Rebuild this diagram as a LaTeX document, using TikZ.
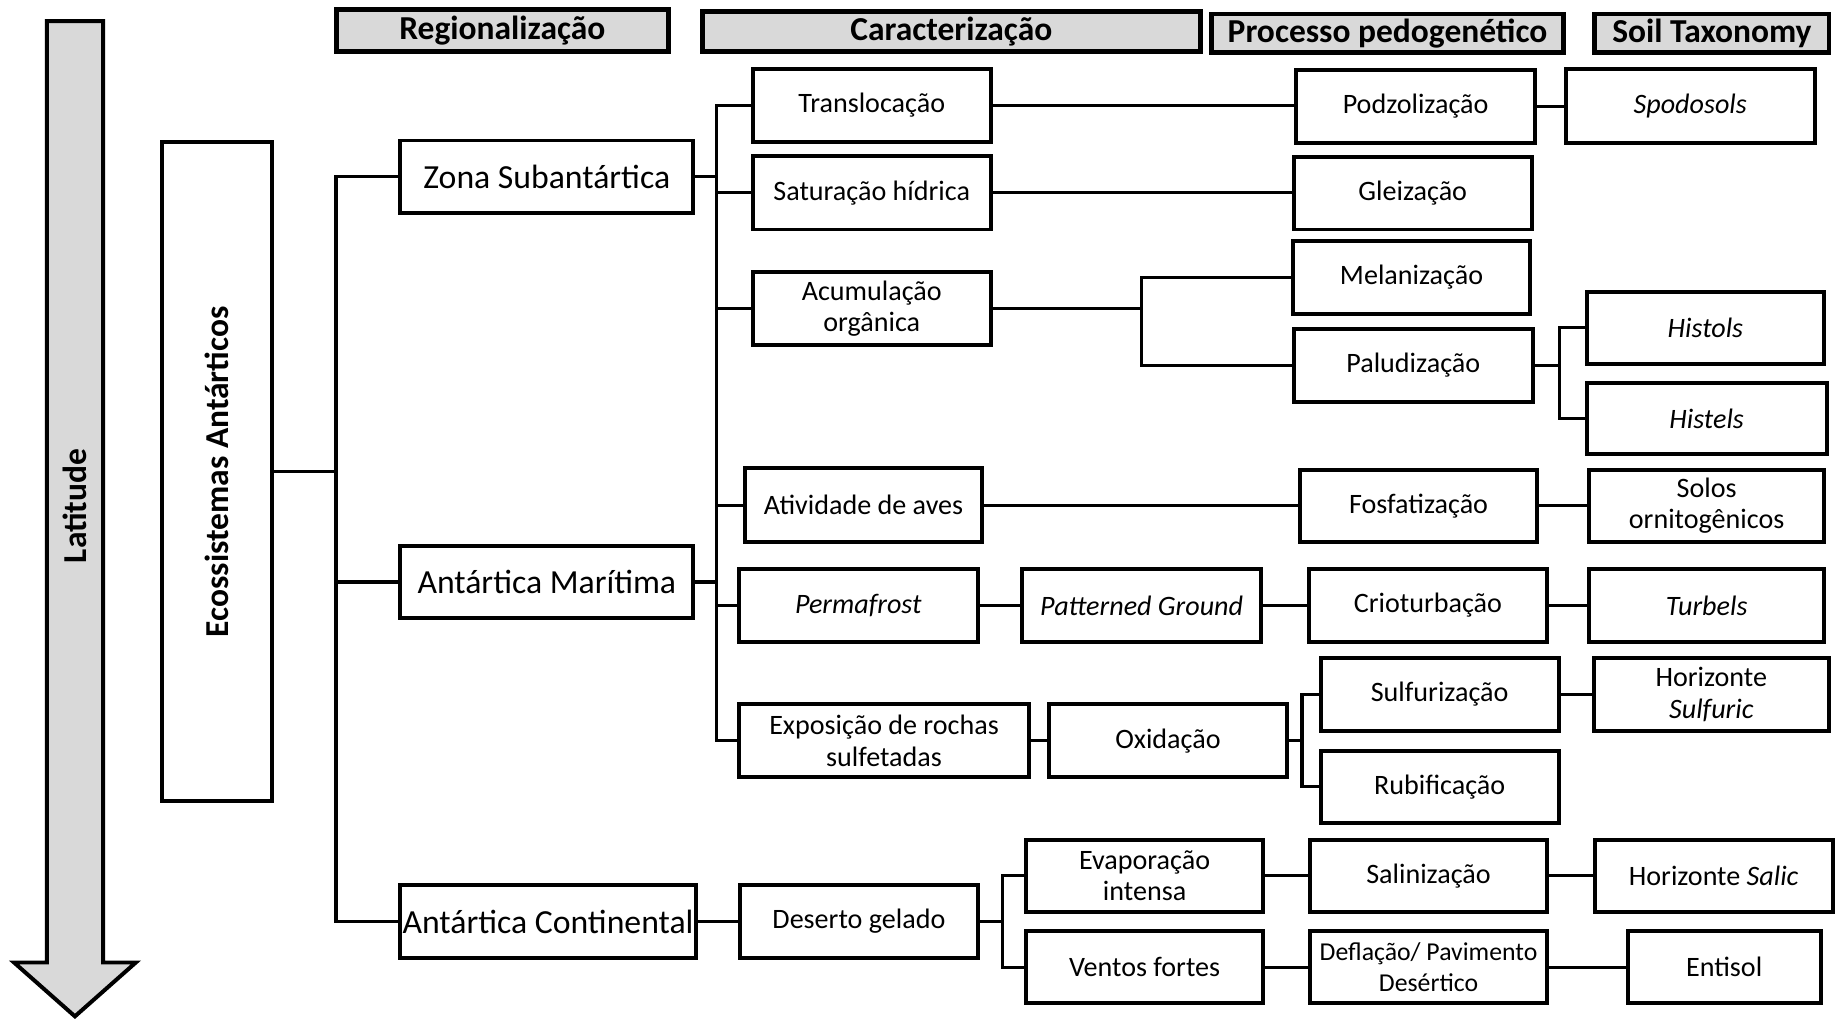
\documentclass[tikz,border=0pt]{standalone}
\usepackage{fontspec}
\setmainfont{Carlito}
\definecolor{hdrgray}{RGB}{217,217,217}
\newcommand{\bx}[7][]{%
  \node[box,#1,minimum width={(#5-#3)*0.5pt},minimum height={(#6-#4)*0.5pt}] (#2) at ({(#3+#5)/2},{(#4+#6)/2}) {#7};}
\begin{document}
\begin{tikzpicture}[x=0.5pt,y=-0.5pt,
  box/.style={draw,line width=1.7pt,fill=white,inner sep=0.5pt,align=center,font=\fontsize{12}{13.5}\selectfont},
  small/.style={font=\fontsize{11}{13.5}\selectfont},
  reg/.style={font=\fontsize{14.4}{16}\selectfont},
  hdr/.style={line width=2.1pt,fill=hdrgray,font=\bfseries\fontsize{14.3}{16}\selectfont},
  vtext/.style={rotate=90,font=\bfseries\fontsize{14.3}{16}\selectfont,inner sep=0pt},
  conn/.style={line width=1.4pt,line cap=rect}]
\useasboundingbox (0,0) rectangle (1568,870);
% latitude arrow
\draw[line width=1.7pt,fill=hdrgray,line join=miter] (40,18) -- (88,18) -- (88,822) -- (116,822) -- (64,868) -- (12,822) -- (40,822) -- cycle;
\node[vtext] (lat) at (64,432) {Latitude};
% headers
\bx[hdr]{h1}{287}{8}{571}{44}{Regionalização}
\bx[hdr]{h2}{600}{10}{1025}{44}{Caracterização}
\bx[hdr]{h3}{1035}{12}{1335}{45}{Processo pedogenético}
\bx[hdr]{h4}{1362}{12}{1562}{45}{Soil Taxonomy}
% ecossistemas
\bx{eco}{138}{121}{232}{684}{}
\node[vtext] (ecot) at (185,403) {Ecossistemas Antárticos};
% regions
\bx[reg]{zona}{342}{120}{592}{182}{Zona Subantártica}
\bx[reg]{mar}{342}{466}{592}{528}{Antártica Marítima}
\bx[reg]{cont}{342}{756}{594}{818}{Antártica Continental}
% caracterizacao
\bx{trans}{643}{59}{846}{121}{Translocação}
\bx{satu}{643}{133}{846}{196}{Saturação hídrica}
\bx{acum}{643}{232}{846}{295}{Acumulação\\orgânica}
\bx{aves}{636}{400}{839}{463}{Atividade de aves}
\bx{perma}{631}{486}{835}{548}{\textit{Permafrost}}
\bx{expo}{631}{601}{879}{664}{Exposição de rochas\\sulfetadas}
\bx{patt}{873}{486}{1077}{548}{\textit{Patterned Ground}}
\bx{oxid}{896}{601}{1099}{664}{Oxidação}
\bx{deser}{632}{756}{835}{818}{Deserto gelado}
\bx{evap}{876}{717}{1079}{779}{Evaporação\\intensa}
\bx{vent}{876}{795}{1079}{857}{Ventos fortes}
% processos
\bx{podz}{1107}{60}{1311}{122}{Podzolização}
\bx{glei}{1105}{134}{1308}{196}{Gleização}
\bx{mela}{1104}{206}{1307}{268}{Melanização}
\bx{palu}{1105}{281}{1309}{343}{Paludização}
\bx{fosf}{1110}{401}{1313}{463}{Fosfatização}
\bx{crio}{1118}{486}{1321}{548}{Crioturbação}
\bx{sulf}{1128}{562}{1331}{624}{Sulfurização}
\bx{rubi}{1128}{641}{1331}{703}{Rubificação}
\bx{sali}{1119}{717}{1321}{779}{Salinização}
\bx[small]{defl}{1119}{795}{1321}{857}{Deflação/ Pavimento\\Desértico}
% soil taxonomy
\bx{spod}{1337}{59}{1550}{122}{\textit{Spodosols}}
\bx{hist}{1355}{249}{1558}{311}{\textit{Histols}}
\bx{hise}{1355}{327}{1560}{388}{\textit{Histels}}
\bx{solo}{1357}{401}{1558}{463}{Solos\\ornitogênicos}
\bx{turb}{1357}{486}{1558}{548}{\textit{Turbels}}
\bx{hsul}{1361}{562}{1562}{624}{Horizonte\\\textit{Sulfuric}}
\bx{hsal}{1362}{717}{1565}{779}{Horizonte \textit{Salic}}
\bx{enti}{1390}{795}{1555}{857}{Entisol}
% bus coordinates
\coordinate (b0) at (287,0);
\coordinate (b1) at (612,0);
\coordinate (b2) at (975,0);
\coordinate (b3) at (1332,0);
\coordinate (b4) at (1112,0);
\coordinate (b5) at (856,0);
% connectors
\draw[conn] (eco.east) -- (eco.east -| b0);
\draw[conn] (b0 |- zona.west) -- (b0 |- cont.west);
\foreach \n in {zona,mar,cont} \draw[conn] (b0 |- \n.west) -- (\n.west);
\draw[conn] (zona.east) -- (zona.east -| b1);
\draw[conn] (mar.east) -- (mar.east -| b1);
\draw[conn] (b1 |- trans.west) -- (b1 |- expo.west);
\foreach \n in {trans,satu,acum,aves,perma,expo} \draw[conn] (b1 |- \n.west) -- (\n.west);
\draw[conn] (trans.east) -- (trans.east -| podz.west);
\draw[conn] (satu.east) -- (satu.east -| glei.west);
\draw[conn] (acum.east) -- (acum.east -| b2);
\draw[conn] (b2 |- mela.west) -- (b2 |- palu.west);
\foreach \n in {mela,palu} \draw[conn] (b2 |- \n.west) -- (\n.west);
\draw[conn] (podz.east) -- (podz.east -| spod.west);
\draw[conn] (palu.east) -- (palu.east -| b3);
\draw[conn] (b3 |- hist.west) -- (b3 |- hise.west);
\foreach \n in {hist,hise} \draw[conn] (b3 |- \n.west) -- (\n.west);
\draw[conn] (aves.east) -- (aves.east -| fosf.west);
\draw[conn] (fosf.east) -- (fosf.east -| solo.west);
\draw[conn] (perma.east) -- (perma.east -| patt.west);
\draw[conn] (patt.east) -- (patt.east -| crio.west);
\draw[conn] (crio.east) -- (crio.east -| turb.west);
\draw[conn] (expo.east) -- (expo.east -| oxid.west);
\draw[conn] (oxid.east) -- (oxid.east -| b4);
\draw[conn] (b4 |- sulf.west) -- (b4 |- rubi.west);
\foreach \n in {sulf,rubi} \draw[conn] (b4 |- \n.west) -- (\n.west);
\draw[conn] (sulf.east) -- (sulf.east -| hsul.west);
\draw[conn] (cont.east) -- (cont.east -| deser.west);
\draw[conn] (deser.east) -- (deser.east -| b5);
\draw[conn] (b5 |- evap.west) -- (b5 |- vent.west);
\foreach \n in {evap,vent} \draw[conn] (b5 |- \n.west) -- (\n.west);
\draw[conn] (evap.east) -- (evap.east -| sali.west);
\draw[conn] (sali.east) -- (sali.east -| hsal.west);
\draw[conn] (vent.east) -- (vent.east -| defl.west);
\draw[conn] (defl.east) -- (defl.east -| enti.west);
\end{tikzpicture}
\end{document}
